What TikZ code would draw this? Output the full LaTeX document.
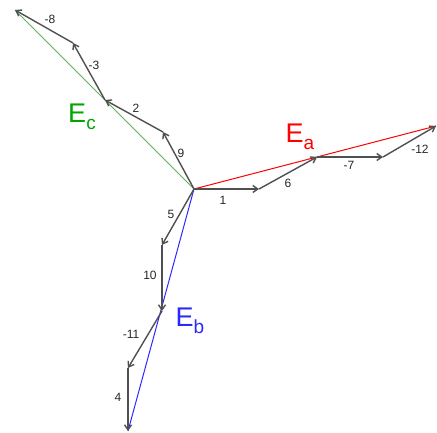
\documentclass[tikz,border=0pt]{standalone}
\usepackage{fontspec}
\setmainfont{Liberation Sans}
\usetikzlibrary{arrows.meta}
\definecolor{vecgray}{RGB}{80,80,80}
\definecolor{egreen}{RGB}{90,180,90}
\definecolor{etgreen}{RGB}{0,165,0}
\definecolor{eblue}{RGB}{40,40,255}
\newcommand{\myE}[1]{E\raisebox{-0.25em}{\fontsize{19}{19}\selectfont #1}}
\begin{document}
\begin{tikzpicture}[x=1pt,y=-1pt,
  vec/.style={draw=vecgray,line width=1.4pt,-{Straight Barb[length=5pt,width=7pt]}},
  res/.style={line width=1pt},
  lbl/.style={font=\fontsize{12}{12}\selectfont,text=black!85,inner sep=0pt},
  ebig/.style={font=\fontsize{27}{27}\selectfont,inner sep=0pt}]
\useasboundingbox (0,0) rectangle (437,432);
\coordinate (O) at (194,189);
\coordinate (A1) at (259,189);
\coordinate (A2) at (317,157);
\coordinate (A3) at (383,157);
\coordinate (A4) at (436,126);
\coordinate (C1) at (163,132);
\coordinate (C2) at (105,100);
\coordinate (C3) at (73,43);
\coordinate (C4) at (15,10);
\coordinate (B1) at (162,245);
\coordinate (B2) at (162,311);
\coordinate (B3) at (128,368);
\coordinate (B4) at (128,431);
\draw[res,red] (O) -- (A4);
\draw[res,egreen] (O) -- (C4);
\draw[res,eblue] (O) -- (B4);
\draw[vec] (O) -- (A1);
\draw[vec] (A1) -- (A2);
\draw[vec] (A2) -- (A3);
\draw[vec] (A3) -- (A4);
\draw[vec] (O) -- (C1);
\draw[vec] (C1) -- (C2);
\draw[vec] (C2) -- (C3);
\draw[vec] (C3) -- (C4);
\draw[vec] (O) -- (B1);
\draw[vec] (B1) -- (B2);
\draw[vec] (B2) -- (B3);
\draw[vec] (B3) -- (B4);
\node[lbl] (l1) at (223,200) {1};
\node[lbl] (l6) at (288,183) {6};
\node[lbl] (l7) at (349,165) {-7};
\node[lbl] (l12) at (420,149) {-12};
\node[lbl] (l9) at (181,153) {9};
\node[lbl] (l2) at (136,108) {2};
\node[lbl] (l3) at (94,65) {-3};
\node[lbl] (l8) at (50,19) {-8};
\node[lbl] (l5) at (171,214) {5};
\node[lbl] (l10) at (150,275) {10};
\node[lbl] (l11) at (131,334) {-11};
\node[lbl] (l4) at (118,397) {4};
\node[ebig,text=red] (Ea) at (300,137) {\myE{a}};
\node[ebig,text=etgreen] (Ec) at (82,117) {\myE{c}};
\node[ebig,text=eblue] (Eb) at (190,321) {\myE{b}};
\end{tikzpicture}
\end{document}
